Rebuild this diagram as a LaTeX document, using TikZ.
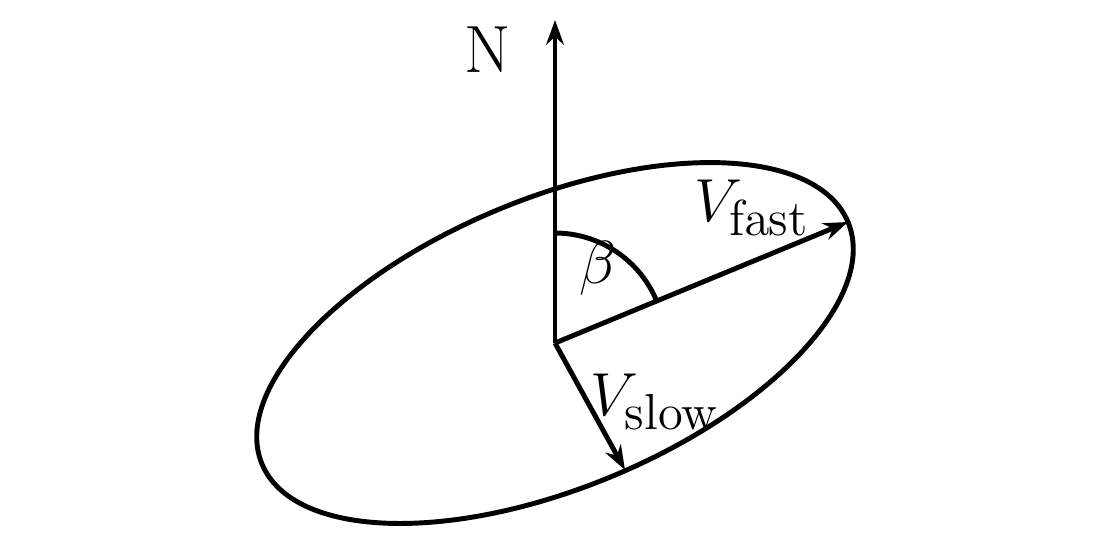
\documentclass[tikz,border=0pt]{standalone}
\usetikzlibrary{arrows.meta}
\begin{document}
\begin{tikzpicture}[x=0.01cm,y=-0.01cm,line width=1.4pt,
  vec/.style={-{Stealth[length=7pt,width=5pt]}},
  lab/.style={font=\fontsize{19}{21}\selectfont}]
\useasboundingbox (0,0) rectangle (1100,550);
\coordinate (O) at (555,343);
\draw[rotate around={22.4:(O)}] (O) ellipse [x radius=317, y radius=145];
\coordinate (Ntip) at (555,20);
\coordinate (F) at (848,222);
\coordinate (S) at (625,470);
\draw[vec] (O) -- (Ntip);
\draw[vec] (O) -- (F);
\draw[vec] (O) -- (S);
\draw (555,233) arc[start angle=-90,end angle=-22.4,radius=110];
\node[lab] (n) at (488,50) {N};
\node[lab] (b) at (598,268) {$\beta$};
\node[lab] (vf) at (752,208) {$V_{\mathrm{fast}}$};
\node[lab] (vs) at (655,402) {$V_{\mathrm{slow}}$};
\end{tikzpicture}
\end{document}
